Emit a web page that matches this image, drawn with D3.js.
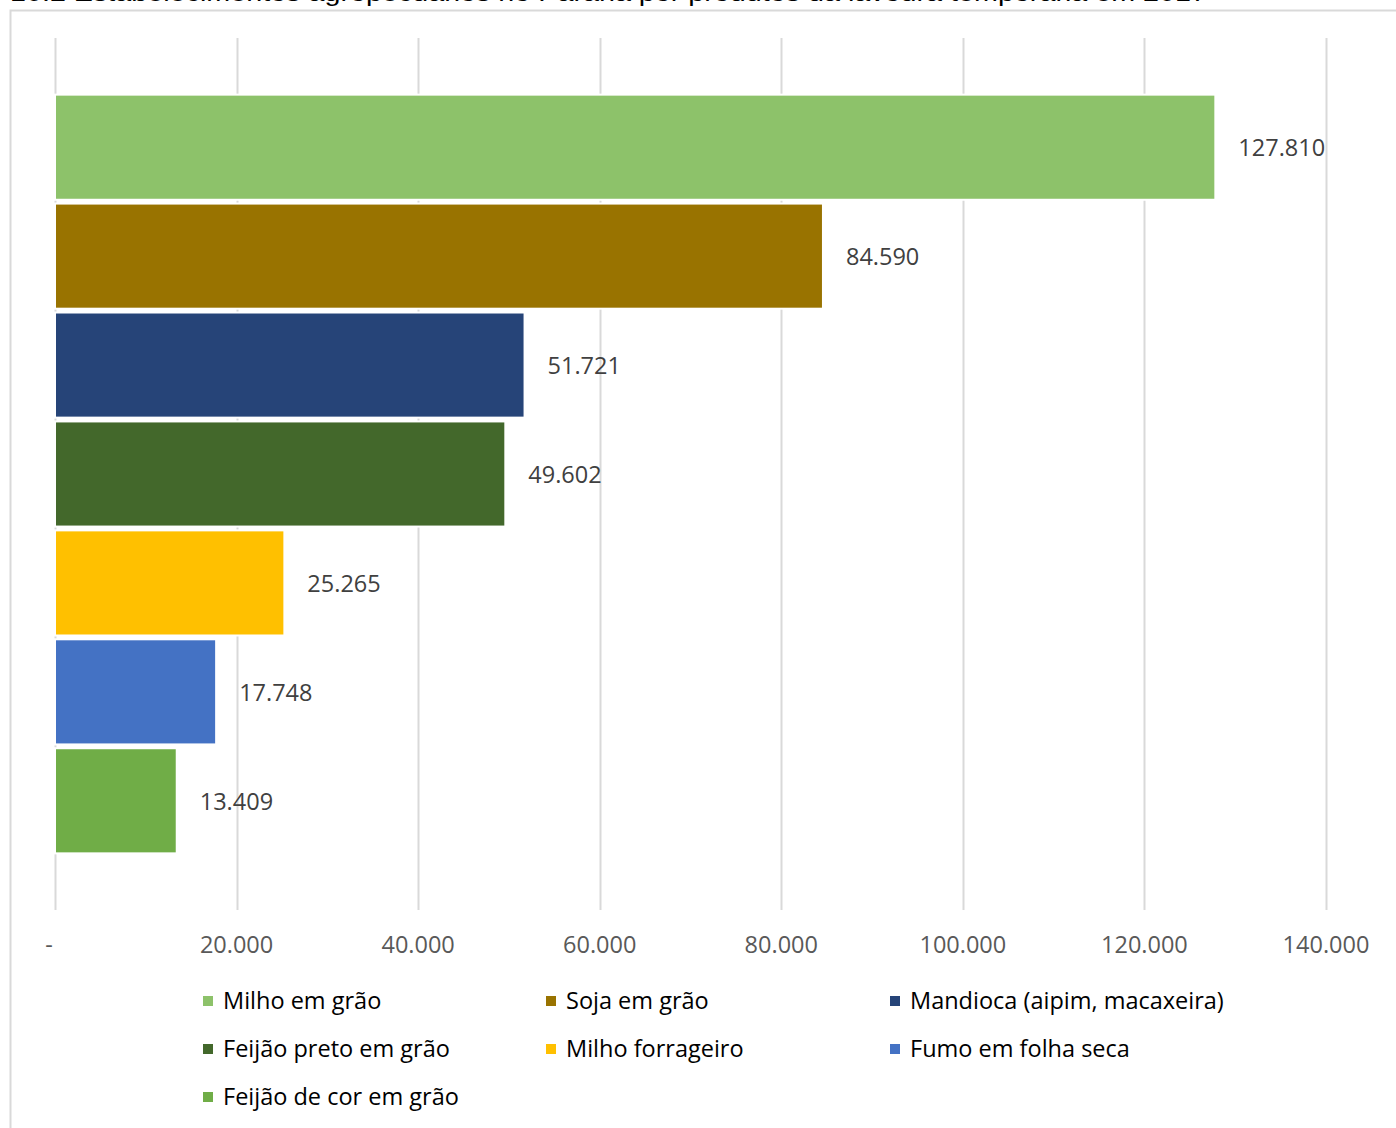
<!DOCTYPE html>
<html>
<head>
<meta charset="utf-8">
<script src="https://cdn.jsdelivr.net/npm/d3@7"></script>
<style>
  html, body { margin: 0; padding: 0; background: #fff; }
  svg { display: block; }
</style>
</head>
<body>
<svg id="chart" width="1396" height="1128"></svg>
<script>
const title = "10.2 Estabelecimentos agropecuários no Paraná por produtos da lavoura temporária em 2017";
const categories = ["Milho em grão", "Soja em grão", "Mandioca (aipim, macaxeira)", "Feijão preto em grão", "Milho forrageiro", "Fumo em folha seca", "Feijão de cor em grão"];
const values = [127810, 84590, 51721, 49602, 25265, 17748, 13409];
const colors = ["#8dc26a", "#997300", "#264478", "#43682b", "#ffc000", "#4472c4", "#70ad47"];
const tickValues = [0, 20000, 40000, 60000, 80000, 100000, 120000, 140000];
const tickLabels = ["-", "20.000", "40.000", "60.000", "80.000", "100.000", "120.000", "140.000"];

const svg = d3.select("#chart");
const font = "'Open Sans', sans-serif";
const fs = 23.5;
const fmt = v => d3.format(",")(v).replace(/,/g, ".");

// Title (cut off at top, as in the reference)
svg.append("text")
  .attr("x", 10).attr("y", 1)
  .attr("font-family", "'Liberation Sans', Arial, sans-serif")
  .attr("font-size", 24)
  .attr("textLength", 1197)
  .attr("lengthAdjust", "spacingAndGlyphs")
  .attr("fill", "#000")
  .text(title);

// Chart frame
svg.append("rect")
  .attr("x", 10.5).attr("y", 10.5)
  .attr("width", 1400).attr("height", 1130)
  .attr("fill", "none").attr("stroke", "#d9d9d9").attr("stroke-width", 2);

const x = d3.scaleLinear().domain([0, 140000]).range([55, 1326]);
const y = d3.scaleBand().domain(categories).range([38, 910]).paddingInner(0.035).paddingOuter(0.52);

// Gridlines
svg.append("g").selectAll("line").data(tickValues).join("line")
  .attr("x1", d => Math.round(x(d)) + 0.5).attr("x2", d => Math.round(x(d)) + 0.5)
  .attr("y1", 38).attr("y2", 910)
  .attr("stroke", "#d9d9d9").attr("stroke-width", 2);

// Bars
svg.append("g").selectAll("rect").data(values).join("rect")
  .attr("x", x(0)).attr("y", (d, i) => y(categories[i]))
  .attr("width", d => x(d) - x(0)).attr("height", y.bandwidth())
  .attr("fill", (d, i) => colors[i])
  .attr("stroke", "#fff").attr("stroke-width", 2);

// Value labels
svg.append("g").selectAll("text").data(values).join("text")
  .attr("x", d => x(d) + 23)
  .attr("y", (d, i) => y(categories[i]) + y.bandwidth() / 2 + 1)
  .attr("dy", "0.35em")
  .attr("font-family", font).attr("font-size", fs)
  .attr("fill", "#404040")
  .text(d => fmt(d));

// Axis labels
svg.append("g").selectAll("text").data(tickValues).join("text")
  .attr("x", (d, i) => i === 0 ? x(d) - 6 : x(d))
  .attr("y", 945).attr("dy", "0.35em")
  .attr("text-anchor", "middle")
  .attr("font-family", font).attr("font-size", fs)
  .attr("fill", "#595959")
  .text((d, i) => tickLabels[i]);

// Legend
const colX = [203, 546, 890];
const rowY = [1001, 1049, 1097];
const lg = svg.append("g").selectAll("g").data(categories).join("g")
  .attr("transform", (d, i) => `translate(${colX[i % 3]},${rowY[Math.floor(i / 3)]})`);
lg.append("rect").attr("x", 0).attr("y", -5).attr("width", 10).attr("height", 10)
  .attr("fill", (d, i) => colors[i]);
lg.append("text").attr("x", 20).attr("y", 0).attr("dy", "0.35em")
  .attr("font-family", font).attr("font-size", fs).attr("fill", "#000")
  .text(d => d);
</script>
</body>
</html>
